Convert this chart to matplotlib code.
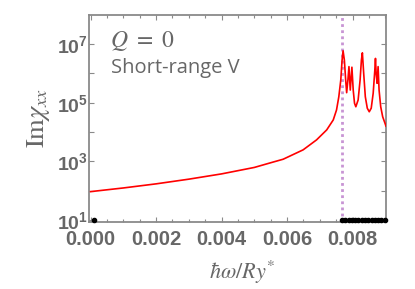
import matplotlib
matplotlib.use("Agg")
import matplotlib.pyplot as plt
from matplotlib.ticker import FixedLocator, MultipleLocator, FuncFormatter
import numpy as np

# values: hbar*omega/Ry*, log10(Im chi_xx)
omega = [0.0, 0.001, 0.002, 0.003, 0.004, 0.005, 0.0055, 0.00588, 0.00649,
         0.0069, 0.00721, 0.00741, 0.00751, 0.00758, 0.00764, 0.00768,
         0.00771, 0.00775, 0.00779, 0.00782, 0.00786, 0.00789, 0.00793,
         0.00798, 0.00802, 0.00806, 0.0081, 0.00817, 0.00823, 0.00827,
         0.0083, 0.00834, 0.00839, 0.00845, 0.00851, 0.00857, 0.00863,
         0.00868, 0.0087, 0.00872, 0.00875, 0.00878, 0.00881, 0.00886,
         0.00892, 0.00899, 0.00902]
log_chi = [1.965, 2.09, 2.23, 2.39, 2.57, 2.79, 2.95, 3.07, 3.39,
           3.73, 4.07, 4.41, 4.75, 5.20, 5.77, 6.45,
           6.77, 6.45, 5.77, 5.34, 5.80, 6.23, 5.43,
           6.21, 5.43, 4.98, 4.86, 5.09, 5.77, 6.45,
           6.70, 6.00, 5.20, 4.81, 4.69, 4.81, 5.32,
           6.11, 6.51, 6.00, 5.66, 6.23, 5.43, 4.86,
           4.52, 4.30, 4.20]
chi = [10 ** v for v in log_chi]

# black points lying on the bottom axis
dot_x = [0.00009, 0.00768, 0.00778, 0.00788, 0.00798, 0.00808, 0.00818,
         0.00828, 0.00838, 0.00848, 0.00858, 0.00868, 0.00878, 0.00888, 0.00898]
dot_y = [10.0] * len(dot_x)

threshold = 0.00768
ytick_exp = [1, 2, 3, 4, 5, 6, 7, 8]

gray = "#676767"
spine_gray = "#8a8a8a"

plt.rcParams["mathtext.fontset"] = "custom"
plt.rcParams["mathtext.bf"] = "Liberation Sans:bold"
plt.rcParams["mathtext.rm"] = "Liberation Sans:bold"

fig = plt.figure(figsize=(4.15, 2.89), dpi=100)
ax = fig.add_axes([0.2145, 0.232, 0.7155, 0.716])

ax.plot(omega, chi, color="red", lw=1.2, zorder=3)
ax.axvline(threshold, color="#c894d4", lw=2.0, linestyle=(0, (1, 1.2)), zorder=2)
ax.scatter(dot_x, dot_y, s=9, color="black", zorder=4, clip_on=False)

ax.set_yscale("log")
ax.set_xlim(-0.00005, 0.00902)
ax.set_ylim(10 ** 0.93, 10 ** 7.99)

ax.yaxis.set_major_locator(FixedLocator([10.0 ** e for e in ytick_exp]))
ax.yaxis.set_minor_locator(FixedLocator([]))
ax.yaxis.set_major_formatter(FuncFormatter(
    lambda v, p: r"$\mathbf{10^{%d}}$" % round(np.log10(v)) if round(np.log10(v)) % 2 == 1 else ""))
ax.xaxis.set_major_locator(MultipleLocator(0.002))
ax.xaxis.set_minor_locator(MultipleLocator(0.0005))
ax.xaxis.set_major_formatter(FuncFormatter(lambda v, p: "%.3f" % v))

for s in ax.spines.values():
    s.set_color(spine_gray)
    s.set_linewidth(1.3)

ax.tick_params(which="both", direction="in", top=True, right=True,
               color=spine_gray, width=0.8)
ax.tick_params(which="major", length=3.5)
ax.tick_params(which="minor", length=2.5)
ax.tick_params(axis="x", pad=5.5, labelsize=14.5, labelcolor=gray)
ax.tick_params(axis="y", pad=1, labelsize=14, labelcolor=gray)
for lab in ax.get_xticklabels():
    lab.set_fontfamily("Liberation Sans")
    lab.set_fontweight("bold")

ax.set_xlabel(r"$\hbar\omega/Ry^{*}$", fontsize=16, color=gray,
              math_fontfamily="stix")
ax.xaxis.set_label_coords(0.515, -0.18)
ax.set_ylabel(r"$\mathrm{Im}\chi_{xx}$", fontsize=19, color=gray,
              math_fontfamily="stix", labelpad=3)

ax.text(0.072, 0.875, r"$Q\ =\ 0$", transform=ax.transAxes, fontsize=17,
        color=gray, math_fontfamily="stix", va="center", ha="left")
ax.text(0.075, 0.745, "Short-range V", transform=ax.transAxes, fontsize=14.5,
        color=gray, family="Open Sans", va="center", ha="left")

fig.savefig("out.png", dpi=100)
